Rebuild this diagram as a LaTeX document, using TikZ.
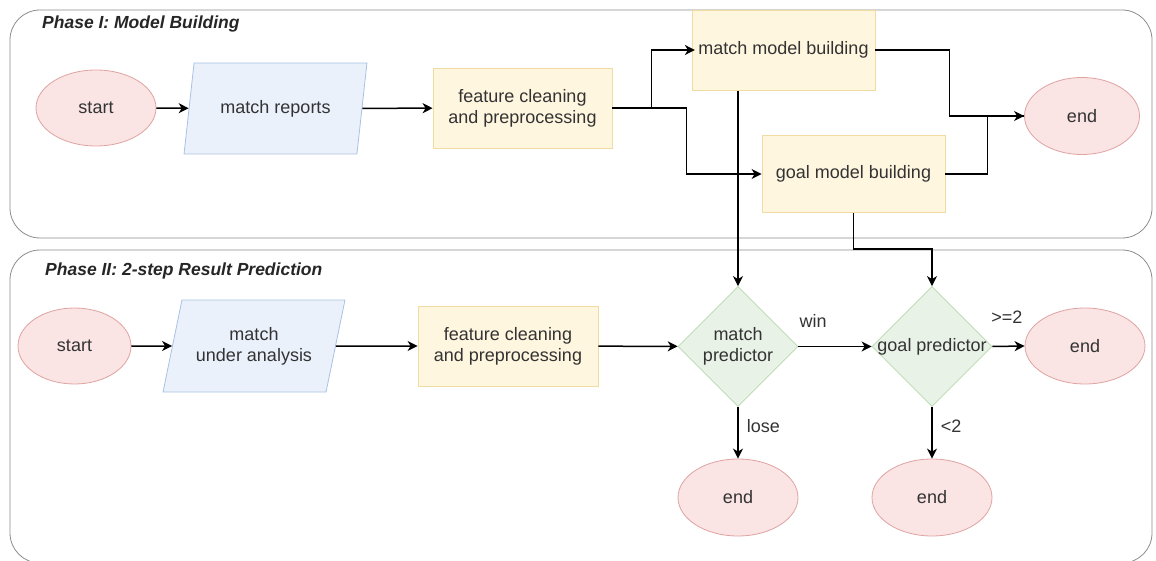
\documentclass[tikz,border=0pt]{standalone}
\usepackage{fontspec}
\setmainfont{Liberation Sans}
\usetikzlibrary{shapes.geometric,arrows.meta,calc}

\definecolor{txtc}{HTML}{333333}
\definecolor{redfill}{HTML}{FAE4E4}
\definecolor{redline}{HTML}{DFA3A1}
\definecolor{bluefill}{HTML}{EAF1FB}
\definecolor{blueline}{HTML}{A9C1E4}
\definecolor{yelfill}{HTML}{FFF6E0}
\definecolor{yelline}{HTML}{F0DCA0}
\definecolor{grnfill}{HTML}{E8F2E6}
\definecolor{grnline}{HTML}{B9D8AC}
\definecolor{framec}{HTML}{8C8C8C}

\begin{document}
\begin{tikzpicture}[x=1pt,y=-1pt,
  font=\fontsize{18}{21}\selectfont,
  every node/.style={text=txtc},
  term/.style={ellipse,draw=redline,fill=redfill,line width=0.8pt,inner sep=0pt},
  io/.style={trapezium,trapezium left angle=68,trapezium right angle=112,
    trapezium stretches=true,draw=blueline,fill=bluefill,line width=0.8pt,
    inner sep=0pt,align=center},
  procbox/.style={rectangle,draw=yelline,fill=yelfill,line width=0.8pt,
    inner sep=0pt,align=center},
  decide/.style={diamond,draw=grnline,fill=grnfill,line width=0.8pt,
    inner sep=0pt,aspect=1},
  phase/.style={draw=framec,line width=0.8pt,rounded corners=30pt},
  phasetitle/.style={font=\fontsize{17.5}{20}\selectfont\bfseries\itshape,
    anchor=west,inner sep=0pt,text=black!85},
  flow/.style={draw=black,line width=1.5pt,
    -{Stealth[length=10pt,width=10pt,inset=3pt]}},
  seg/.style={draw=black,line width=1.5pt},
  lbl/.style={inner sep=0pt,text=txtc}
]
\useasboundingbox (0,0) rectangle (1156,561);

% phase containers
\draw[phase] (10,10) rectangle (1152,238);
\draw[phase] (10,250) rectangle (1152,563);
\node[phasetitle] (t1) at (42,24) {Phase I: Model Building};
\node[phasetitle] (t2) at (45,271) {Phase II: 2-step Result Prediction};

% ---- Phase I: model building
\node[term,minimum width=120pt,minimum height=76pt] (s1) at (96,108) {start};
\node[io,minimum width=183pt,minimum height=91pt] (mr) at (275.5,108.5) {match reports};
\node[procbox,minimum width=179pt,minimum height=80pt] (fc1) at (522.5,108) {feature cleaning\\and preprocessing};
\node[procbox,minimum width=183pt,minimum height=80pt,anchor=north] (mmb) at (783.5,10) {};
\node (mmbt) at (783.5,50) {match model building};
\node[procbox,minimum width=183pt,minimum height=77pt] (gmb) at (853.5,174) {goal model building};
\node[term,minimum width=115pt,minimum height=77pt] (e1) at (1082,116) {end};

% ---- Phase II: result prediction
\node[term,minimum width=113pt,minimum height=76pt] (s2) at (74.5,346) {start};
\node[io,minimum width=182pt,minimum height=92pt] (mua) at (254,346) {match\\under analysis};
\node[procbox,minimum width=180pt,minimum height=80pt] (fc2) at (508,346) {feature cleaning\\and preprocessing};
\node[decide,minimum width=120pt,minimum height=120pt] (mp) at (738,346.5) {};
\node[align=center] (mpt) at (mp) {match\\predictor};
\node[decide,minimum width=120pt,minimum height=120pt] (gp) at (932,346.5) {};
\node (gpt) at (gp) {goal predictor};
\node[term,minimum width=120pt,minimum height=76pt] (e2) at (1085,346) {end};
\node[term,minimum width=120pt,minimum height=77pt] (e3) at (738,497.5) {end};
\node[term,minimum width=120pt,minimum height=77pt] (e4) at (932,497.5) {end};

% ---- connectors, phase I
\draw[flow] (s1) -- (mr);
\draw[flow] (mr) -- (fc1);
\draw[flow] (fc1.east) -- ++(39,0) |- (mmbt.west);
\draw[flow] (fc1.east) -- ++(74,0) |- (gmb.west);
\draw[flow] (mmb.east |- mmbt) -- ++(74,0) |- (e1.west);
\draw[seg] (gmb.east) -- ++(42,0) |- (e1.west);

% ---- links from phase I models into the predictors
\draw[flow] (mp.north |- mmb.south) -- (mp.north);
\draw[flow] (gmb.south) -- ++(0,36) -| (gp.north);

% ---- connectors, phase II
\draw[flow] (s2) -- (mua);
\draw[flow] (mua) -- (fc2);
\draw[flow] (fc2) -- (mp);
\draw[flow] (mp.east) -- node[lbl,pos=0.2,above=18pt] {win} (gp.west);
\draw[flow] (gp.east) -- node[lbl,pos=0.45,above=22pt] {>=2} (e2.west);
\draw[flow] (mp.south) -- node[lbl,right=8pt,pos=0.38] {lose} (e3.north);
\draw[flow] (gp.south) -- node[lbl,right=8pt,pos=0.38] {<2} (e4.north);
\end{tikzpicture}
\end{document}
